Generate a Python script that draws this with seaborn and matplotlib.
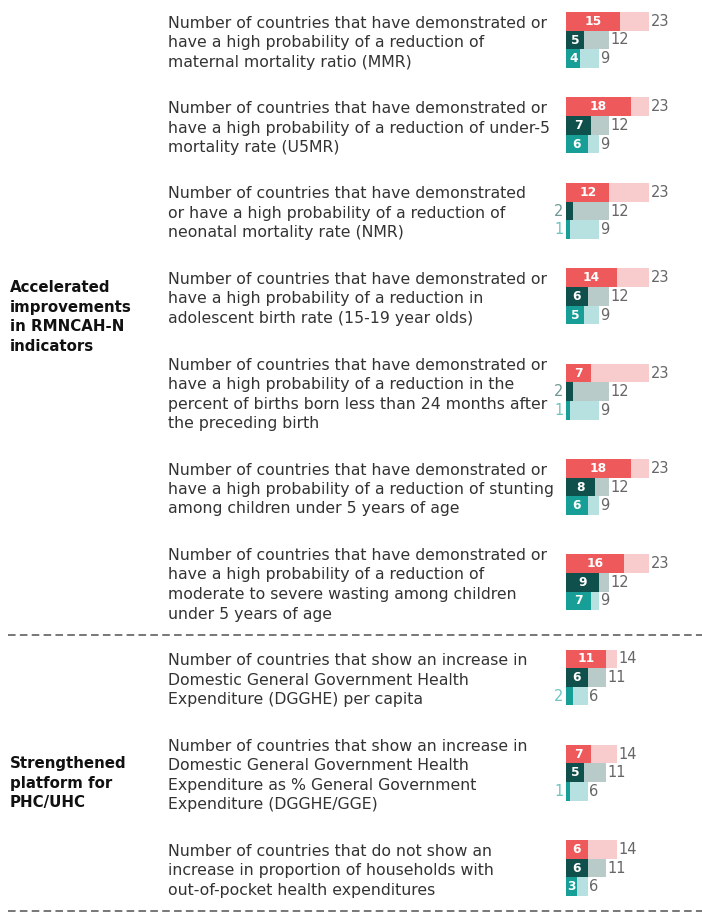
import matplotlib
matplotlib.use("Agg")
import matplotlib.pyplot as plt
import seaborn as sns
import pandas as pd
from matplotlib.lines import Line2D

sns.set_theme(style="white")
plt.rcParams['font.family'] = ['DejaVu Sans']

# ---------------- data ----------------
descriptions = [
    "Number of countries that have demonstrated or\nhave a high probability of a reduction of\nmaternal mortality ratio (MMR)",
    "Number of countries that have demonstrated or\nhave a high probability of a reduction of under-5\nmortality rate (U5MR)",
    "Number of countries that have demonstrated\nor have a high probability of a reduction of\nneonatal mortality rate (NMR)",
    "Number of countries that have demonstrated or\nhave a high probability of a reduction in\nadolescent birth rate (15-19 year olds)",
    "Number of countries that have demonstrated or\nhave a high probability of a reduction in the\npercent of births born less than 24 months after\nthe preceding birth",
    "Number of countries that have demonstrated or\nhave a high probability of a reduction of stunting\namong children under 5 years of age",
    "Number of countries that have demonstrated or\nhave a high probability of a reduction of\nmoderate to severe wasting among children\nunder 5 years of age",
    "Number of countries that show an increase in\nDomestic General Government Health\nExpenditure (DGGHE) per capita",
    "Number of countries that show an increase in\nDomestic General Government Health\nExpenditure as % General Government\nExpenditure (DGGHE/GGE)",
    "Number of countries that do not show an\nincrease in proportion of households with\nout-of-pocket health expenditures",
]
value_red = [15, 18, 12, 14, 7, 18, 16, 11, 7, 6]
total_red = [23, 23, 23, 23, 23, 23, 23, 14, 14, 14]
value_green = [5, 7, 2, 6, 2, 8, 9, 6, 5, 6]
total_green = [12, 12, 12, 12, 12, 12, 12, 11, 11, 11]
value_teal = [4, 6, 1, 5, 1, 6, 7, 2, 1, 3]
total_teal = [9, 9, 9, 9, 9, 9, 9, 6, 6, 6]
section_labels = ["Accelerated\nimprovements\nin RMNCAH-N\nindicators",
                  "Strengthened\nplatform for\nPHC/UHC"]
section_sizes = [7, 3]

# ---------------- style ----------------
dark_colors = ["#EE5A5B", "#10504C", "#179E96"]
light_colors = ["#F8CBCC", "#B9CBC8", "#B7E1E1"]
outside_colors = ["#EE5A5B", "#6E9893", "#6CC6BF"]
series = ["a", "b", "c"]

W, H = 702, 913
fig = plt.figure(figsize=(W / 100, H / 100), dpi=100)

def fy(ypx):
    return 1 - ypx / H

LINE = 19.5
GAP = 27.0
TEXT_X = 168
BAR_X0 = 566
PX_PER_UNIT = 3.62
AX_UNITS = 30
BAR_BLOCK = 56

y = 23.0
group_centers = []
dash_positions = []
gi = 0
for s, size in enumerate(section_sizes):
    for k in range(size):
        lines = descriptions[gi].split("\n")
        for j, ln in enumerate(lines):
            fig.text(TEXT_X / W, fy(y + j * LINE), ln, ha="left", va="center",
                     fontsize=11.3, color="#333333")
        center = y + (len(lines) - 1) * LINE / 2 - 2.5
        group_centers.append(center)
        last = y + (len(lines) - 1) * LINE
        y = last + LINE + GAP
        gi += 1
    dash_positions.append(last + 21)

# section labels
sec_label_centers = [317, 783]
for s, size in enumerate(section_sizes):
    lines = section_labels[s].split("\n")
    c = sec_label_centers[s]
    top = c - (len(lines) - 1) * LINE / 2
    for j, ln in enumerate(lines):
        fig.text(10 / W, fy(top + j * LINE), ln, ha="left", va="center",
                 fontsize=10.8, fontweight="bold", color="#111111")

# dashed separators
for dy in dash_positions:
    fig.add_artist(Line2D([8 / W, 1.0], [fy(dy), fy(dy)], transform=fig.transFigure,
                          color="#777777", lw=1.4, ls=(0, (3.9, 2.2))))

# bars
for i in range(len(descriptions)):
    c = group_centers[i]
    ax = fig.add_axes([BAR_X0 / W, fy(c + BAR_BLOCK / 2),
                       AX_UNITS * PX_PER_UNIT / W, BAR_BLOCK / H])
    df = pd.DataFrame({
        "series": series,
        "total": [total_red[i], total_green[i], total_teal[i]],
        "value": [value_red[i], value_green[i], value_teal[i]],
    })
    sns.barplot(data=df, y="series", x="total", hue="series", palette=light_colors,
                orient="h", width=1.0, saturation=1, legend=False, ax=ax, linewidth=0)
    sns.barplot(data=df, y="series", x="value", hue="series", palette=dark_colors,
                orient="h", width=1.0, saturation=1, legend=False, ax=ax, linewidth=0)
    ax.set_xlim(0, AX_UNITS)
    ax.set_ylim(2.5, -0.5)
    ax.axis("off")
    for r in range(3):
        v = df["value"][r]
        t = df["total"][r]
        if v >= 3:
            ax.text(v / 2, r, str(v), ha="center", va="center", color="white",
                    fontsize=8.8, fontweight="bold")
        else:
            ax.text(-0.7, r, str(v), ha="right", va="center", color=outside_colors[r],
                    fontsize=10.5)
        ax.text(t + 0.4, r, str(t), ha="left", va="center", color="#666666",
                fontsize=10.5)

fig.savefig("out.png", dpi=100)
